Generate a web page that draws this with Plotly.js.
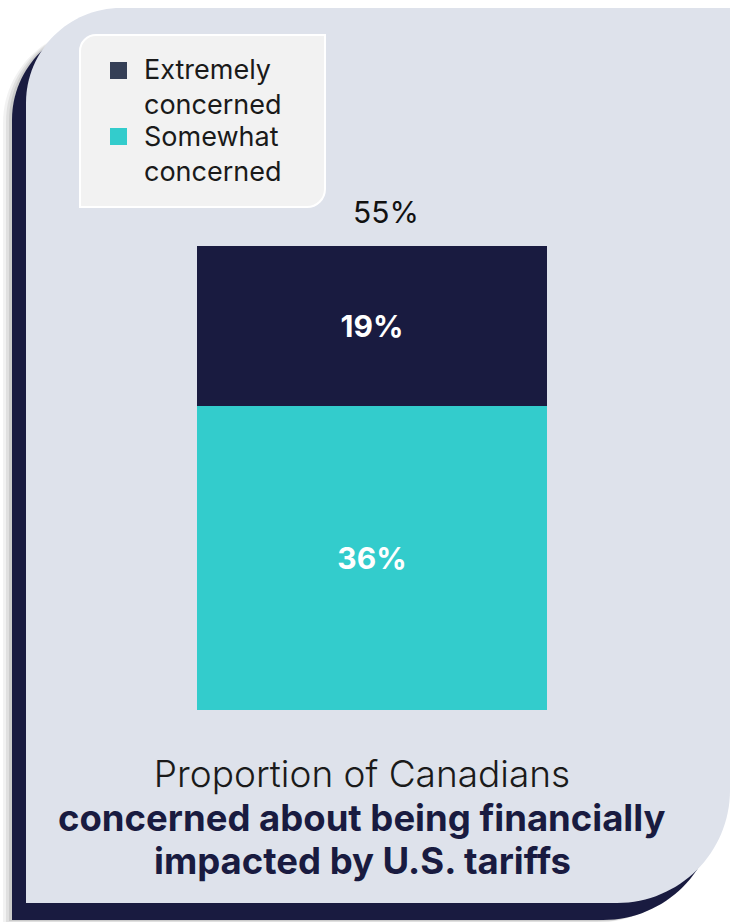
<!DOCTYPE html>
<html>
<head>
<meta charset="utf-8">
<script src="https://cdn.plot.ly/plotly-3.0.1.min.js"></script>
<style>html,body{margin:0;padding:0;background:#fff;}#chart{width:730px;height:922px;}</style>
</head>
<body>
<div id="chart"></div>
<script>
// ---- data ----
const categories = ["Canadians"];
const seriesNames = ["Somewhat concerned", "Extremely concerned"];
const somewhatValues = [36];
const extremelyValues = [19];
const legendLabels = ["Extremely<br>concerned", "Somewhat<br>concerned"];
const titleLines = ["Proportion of Canadians", "concerned about being financially", "impacted by U.S. tariffs"];

// ---- styles ----
const NAVY = "#191b40", TEAL = "#33cccc", CARD = "#dee2eb", LEGEND_ICON_NAVY = "#353f56";
const W = 730, H = 922;
const px = x => x / W;
const py = y => 1 - y / H;
const K = 0.5523;
const FONT = "Inter, sans-serif";

function roundedPath(l, t, r, b, rtl, rbr) {
  const P = (x, y) => px(x) + "," + py(y);
  let d = "M" + P(l, t + rtl);
  if (rtl > 0) d += " C" + P(l, t + rtl * (1 - K)) + " " + P(l + rtl * (1 - K), t) + " " + P(l + rtl, t);
  d += " L" + P(r, t);
  d += " L" + P(r, b - rbr);
  if (rbr > 0) d += " C" + P(r, b - rbr * (1 - K)) + " " + P(r - rbr * (1 - K), b) + " " + P(r - rbr, b);
  d += " L" + P(l, b) + " Z";
  return d;
}

const shapes = [];
[[-9, 3, 0.05], [-6, 2, 0.07], [-3, 1, 0.09]].forEach(s => {
  shapes.push({type: "path", xref: "paper", yref: "paper", layer: "below",
    path: roundedPath(12 + s[0], 25 + s[1], 716 + s[0], 920 + s[1], 95, 113),
    fillcolor: "rgba(0,0,0," + s[2] + ")", line: {width: 0}});
});
shapes.push({type: "path", xref: "paper", yref: "paper", layer: "below",
  path: roundedPath(12, 25, 716, 920, 95, 113), fillcolor: NAVY, line: {width: 0}});
shapes.push({type: "path", xref: "paper", yref: "paper", layer: "below",
  path: roundedPath(26, 8, 730, 903, 95, 113), fillcolor: CARD, line: {width: 0}});
shapes.push({type: "path", xref: "paper", yref: "paper", layer: "below",
  path: roundedPath(80, 35, 325, 207, 16, 18), fillcolor: "#f2f2f2", line: {color: "#ffffff", width: 2}});
const iconColors = [LEGEND_ICON_NAVY, TEAL];
const iconTops = [62, 128];
iconTops.forEach((t, i) => {
  shapes.push({type: "rect", xref: "paper", yref: "paper", layer: "below",
    x0: px(110), x1: px(127), y0: py(t), y1: py(t + 17), fillcolor: iconColors[i], line: {width: 0}});
});

const annotations = [];
const legendCenters = [87, 154];
legendLabels.forEach((lab, i) => {
  annotations.push({xref: "paper", yref: "paper", x: px(142), y: py(legendCenters[i]),
    xanchor: "left", yanchor: "middle", align: "left", showarrow: false, text: lab,
    font: {family: FONT, size: 27, color: "#1a1a1a"}});
});
const total = somewhatValues[0] + extremelyValues[0];
annotations.push({xref: "paper", yref: "y", x: px(372), y: total, xshift: 14, yshift: 14,
  yanchor: "bottom", xanchor: "center", showarrow: false, text: total + "%",
  font: {family: FONT, size: 30, color: "#111111"}});
// title lines 2 and 3 (bold)
[[titleLines[1], 818], [titleLines[2], 861]].forEach(t => {
  annotations.push({xref: "paper", yref: "paper", x: px(362), y: py(t[1]),
    xanchor: "center", yanchor: "middle", showarrow: false, text: "<b>" + t[0] + "</b>",
    font: {family: FONT, size: 36.5, color: NAVY, weight: 700}});
});

const pxPerPct = (710 - 246) / 55;
const yTopPx = 710 - 60 * pxPerPct;

const barText = {family: FONT, size: 30, color: "#ffffff", weight: 700};
const traces = [
  {type: "bar", x: categories, y: somewhatValues, name: seriesNames[0], marker: {color: TEAL},
   texttemplate: "%{y}%", textposition: "inside", insidetextanchor: "middle", width: 1,
   textfont: barText, hoverinfo: "skip", showlegend: false},
  {type: "bar", x: categories, y: extremelyValues, name: seriesNames[1], marker: {color: NAVY},
   texttemplate: "%{y}%", textposition: "inside", insidetextanchor: "middle", width: 1,
   textfont: barText, hoverinfo: "skip", showlegend: false}
];

const layout = {
  width: W, height: H,
  margin: {l: 0, r: 0, t: 0, b: 0},
  paper_bgcolor: "#ffffff", plot_bgcolor: "rgba(0,0,0,0)",
  barmode: "stack",
  showlegend: false,
  xaxis: {domain: [px(197), px(547)], range: [-0.5, 0.5], visible: false, fixedrange: true},
  yaxis: {domain: [py(710), py(yTopPx)], range: [0, 60], visible: false, fixedrange: true},
  title: {
    text: titleLines[0],
    x: px(362), xanchor: "center", xref: "paper",
    y: py(774), yanchor: "middle", yref: "paper",
    font: {family: FONT, size: 37, color: "#1a1a1a", weight: 300}
  },
  shapes: shapes,
  annotations: annotations
};

Plotly.newPlot("chart", traces, layout, {displayModeBar: false, staticPlot: true});
</script>
</body>
</html>
